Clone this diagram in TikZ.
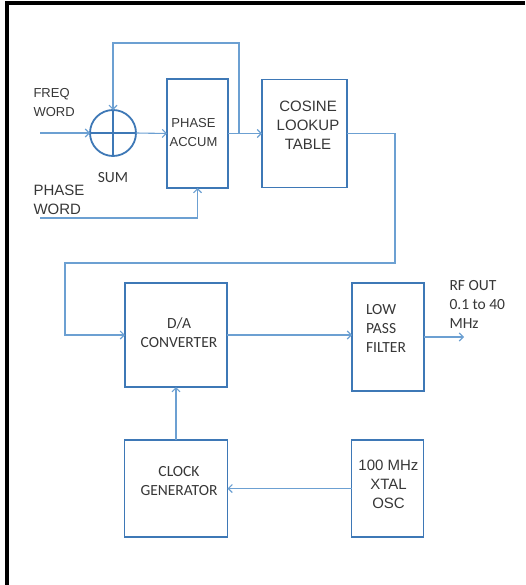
\documentclass[tikz,border=0pt]{standalone}
\usepackage{fontspec}
\setmainfont{Liberation Sans}
\newfontfamily\calfont{Carlito}
\usetikzlibrary{positioning,arrows.meta}

\definecolor{boxblue}{RGB}{62,120,182}
\definecolor{wireblue}{RGB}{108,160,210}
\definecolor{inkgray}{RGB}{55,55,55}

\tikzset{
  blk/.style={draw=boxblue, line width=1.8pt, rectangle, inner sep=0pt, outer sep=0pt},
  sumcirc/.style={draw=boxblue, line width=1.8pt, circle, minimum size=46pt, inner sep=0pt, outer sep=0pt},
  cross/.style={draw=boxblue, line width=1.6pt},
  wire/.style={draw=wireblue, line width=1.1pt, -{Straight Barb[length=4pt,width=8pt]}},
  frame/.style={draw=black, line width=4pt},
  arl/.style={text=inkgray, font=\fontsize{15}{19}\selectfont, align=center},
  arlsmall/.style={text=inkgray, font=\fontsize{13}{19}\selectfont, align=center},
  cal/.style={text=inkgray, font=\calfont\fontsize{15.5}{19}\selectfont, align=center}
}

\begin{document}
\begin{tikzpicture}[x=1pt, y=-1pt]
  \useasboundingbox (0,0) rectangle (525,585);
  % page frame
  \draw[frame] (525,3) -- (7,3) -- (7,585);

  % SUM
  \node[sumcirc] (sum) at (113,133) {};
  \draw[cross] (sum.north) -- (sum.south) (sum.west) -- (sum.east);
  \node[cal] (sumlbl) at (113,178) {SUM};

  % PHASE ACCUM
  \node[blk, minimum width=61pt, minimum height=109pt] (acc) at (197.5,133.5) {};
  \node[arlsmall] (acclbl) at (193.5,133) {PHASE\\ACCUM};

  % COSINE LOOKUP TABLE
  \node[blk, minimum width=85pt, minimum height=108pt, right=34pt of acc] (cos) {};
  \node[arl] (coslbl) at (308,125) {COSINE\\LOOKUP\\TABLE};

  % inputs
  \node[arlsmall, anchor=west, align=left] (freq) at (30,103) {FREQ\\WORD};
  \coordinate (fin) at (40,133);
  \node[arl, anchor=west, align=left] (pword) at (30,200) {PHASE\\WORD};
  \coordinate (pin) at (40,218);

  % D/A CONVERTER
  \node[blk, minimum width=102pt, minimum height=104pt] (dac) at (176,335) {};
  \node[cal] (daclbl) at (179,333) {D/A\\CONVERTER};

  % LOW PASS FILTER
  \node[blk, minimum width=72pt, minimum height=108pt] (lpf) at (388,337) {};
  \node[cal, align=left] (lpflbl) at (386,328) {LOW\\PASS\\FILTER};
  \coordinate (rfout) at (464,337);
  \node[cal, anchor=west, align=left] (rflbl) at (446,304) {RF OUT\\0.1 to 40\\MHz};

  % CLOCK GENERATOR
  \node[blk, minimum width=103pt, minimum height=97pt, below=53pt of dac] (clk) {};
  \node[cal] (clklbl) at (179,481) {CLOCK\\GENERATOR};

  % 100 MHz XTAL OSC
  \node[blk, minimum width=72pt, minimum height=97pt, right=124pt of clk] (osc) {};
  \node[arl] (osclbl) at (388.5,484) {100 MHz\\XTAL\\OSC};

  % connections
  \coordinate (fb) at (239,133.5);
  \coordinate (fbtop) at (113,43);
  \coordinate (r1) at (395,263);
  \coordinate (r2) at (65,263);
  \draw[wire] (fin) -- (sum.west);
  \draw[wire] (pin) -| (acc.south);
  \draw[wire] (sum.east) -- (acc.west);
  \draw[wire] (fb) |- (fbtop) -- (sum.north);
  \draw[wire] (acc.east) -- (acc.east -| cos.west);
  \draw[wire] (cos.east) -| (r1) -- (r2) |- (dac.west);
  \draw[wire] (dac.east) -- (dac.east -| lpf.west);
  \draw[wire] (lpf.east) -- (rfout);
  \draw[wire] (clk.north) -- (dac.south);
  \draw[wire] (osc.west) -- (osc.west -| clk.east);
\end{tikzpicture}
\end{document}
